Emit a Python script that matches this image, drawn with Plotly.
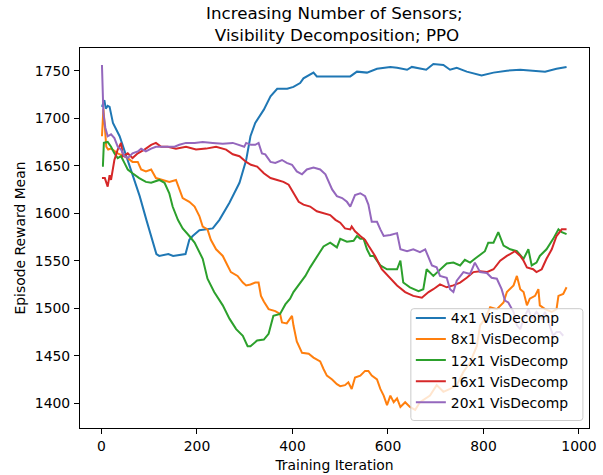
import plotly.graph_objects as go

# Episode reward mean per training iteration, one run per sensor grid size
iters_4x1 = [1, 6, 9, 13, 17, 20, 24, 38, 52, 66, 80, 94, 107, 115, 121, 140, 150, 165, 176, 184, 191,
             205, 219, 233, 247, 268, 289, 303, 312, 322, 340, 354, 368, 389, 402, 416, 423, 444, 451,
             479, 521, 535, 556, 577, 605, 619, 640, 650, 680, 695, 716, 730, 744, 765, 796, 821, 849,
             877, 904, 929, 953, 974]
reward_4x1 = [1712, 1719, 1710, 1713, 1712, 1704, 1695, 1681, 1660, 1639, 1618, 1593, 1569, 1557, 1555,
              1557, 1555, 1556, 1557, 1572, 1576, 1582, 1583, 1584, 1593, 1611, 1632, 1656, 1681, 1695,
              1709, 1723, 1731, 1731, 1733, 1737, 1742, 1748, 1744, 1744, 1744, 1749, 1748, 1752, 1754,
              1753, 1751, 1754, 1751, 1757, 1756, 1751, 1753, 1749, 1745, 1748, 1750, 1751, 1750, 1749,
              1752, 1754]

iters_8x1 = [1, 4, 7, 10, 14, 20, 34, 45, 55, 65, 76, 83, 93, 104, 114, 128, 142, 156, 163, 170, 184,
             195, 205, 212, 222, 229, 240, 254, 264, 271, 285, 296, 303, 312, 322, 329, 334, 340, 350,
             364, 374, 378, 388, 399, 402, 409, 420, 434, 444, 458, 465, 472, 483, 493, 500, 510, 517,
             524, 531, 542, 552, 559, 566, 577, 584, 591, 598, 605, 612, 619, 626, 636, 646, 657, 667,
             688, 702, 716, 730, 744, 758, 772, 786, 793, 803, 814, 828, 842, 849, 863, 870, 877, 884,
             891, 897, 908, 915, 918, 929, 943, 953, 957, 967, 974]
reward_8x1 = [1681, 1710, 1691, 1670, 1667, 1668, 1663, 1660, 1658, 1654, 1654, 1646, 1644, 1646, 1637,
              1635, 1633, 1635, 1625, 1616, 1612, 1607, 1597, 1586, 1583, 1572, 1562, 1555, 1545, 1538,
              1534, 1527, 1524, 1525, 1527, 1527, 1513, 1507, 1499, 1497, 1494, 1485, 1484, 1492, 1482,
              1465, 1453, 1452, 1448, 1444, 1436, 1429, 1425, 1420, 1418, 1419, 1422, 1415, 1427, 1429,
              1434, 1434, 1429, 1425, 1415, 1408, 1398, 1408, 1401, 1405, 1396, 1401, 1396, 1393, 1401,
              1408, 1419, 1412, 1415, 1419, 1433, 1443, 1460, 1482, 1489, 1501, 1499, 1506, 1517, 1524,
              1534, 1520, 1517, 1503, 1510, 1513, 1520, 1503, 1499, 1496, 1499, 1513, 1515, 1522]

iters_12x1 = [1, 3, 5, 13, 20, 27, 34, 41, 48, 55, 65, 79, 93, 104, 121, 132, 142, 149, 160, 170, 184,
              195, 212, 222, 236, 254, 268, 282, 296, 306, 312, 326, 340, 350, 360, 374, 385, 395, 402,
              416, 427, 437, 448, 458, 465, 479, 493, 500, 514, 528, 535, 542, 549, 556, 563, 570, 584,
              598, 619, 626, 632, 646, 657, 664, 674, 681, 695, 709, 723, 737, 751, 761, 772, 782, 793,
              803, 810, 821, 831, 842, 856, 870, 884, 894, 901, 911, 918, 932, 946, 957, 964, 974]
reward_12x1 = [1650, 1650, 1674, 1675, 1670, 1663, 1658, 1660, 1653, 1646, 1642, 1637, 1633, 1632, 1635,
               1632, 1621, 1607, 1593, 1584, 1576, 1569, 1552, 1531, 1517, 1503, 1489, 1478, 1471, 1460,
               1460, 1466, 1467, 1473, 1492, 1494, 1504, 1510, 1517, 1527, 1534, 1543, 1552, 1559, 1565,
               1569, 1564, 1573, 1570, 1571, 1576, 1573, 1573, 1562, 1555, 1555, 1545, 1541, 1541, 1550,
               1527, 1522, 1520, 1518, 1520, 1541, 1534, 1540, 1547, 1548, 1545, 1551, 1548, 1552, 1556,
               1560, 1569, 1569, 1580, 1566, 1562, 1560, 1552, 1562, 1545, 1548, 1555, 1562, 1573, 1583,
               1580, 1578]

iters_16x1 = [1, 7, 13, 17, 20, 27, 34, 41, 45, 55, 65, 76, 90, 104, 114, 125, 139, 156, 177, 198, 219,
              240, 261, 275, 289, 303, 313, 326, 340, 354, 368, 381, 392, 402, 413, 423, 437, 451, 465,
              479, 490, 500, 510, 521, 524, 531, 542, 552, 559, 573, 587, 601, 619, 636, 653, 671, 685,
              695, 709, 723, 737, 751, 765, 779, 793, 807, 821, 835, 849, 866, 877, 884, 891, 904, 911,
              922, 932, 943, 953, 964, 974]
reward_16x1 = [1637, 1637, 1628, 1640, 1635, 1656, 1667, 1674, 1660, 1663, 1658, 1663, 1667, 1672, 1674,
               1670, 1670, 1668, 1670, 1667, 1668, 1670, 1667, 1662, 1660, 1654, 1651, 1649, 1642, 1637,
               1635, 1633, 1630, 1621, 1612, 1609, 1607, 1602, 1600, 1598, 1593, 1590, 1584, 1583, 1586,
               1581, 1576, 1572, 1566, 1555, 1541, 1534, 1524, 1517, 1513, 1511, 1517, 1520, 1525, 1522,
               1524, 1527, 1532, 1538, 1539, 1538, 1541, 1550, 1555, 1560, 1555, 1550, 1543, 1541, 1538,
               1541, 1552, 1562, 1576, 1583, 1583]

iters_20x1 = [1, 4, 8, 13, 20, 27, 34, 41, 48, 55, 65, 76, 83, 93, 104, 114, 135, 153, 163, 177, 195,
              212, 233, 254, 275, 289, 299, 303, 313, 322, 329, 336, 343, 354, 364, 378, 388, 399, 409,
              420, 430, 444, 458, 469, 476, 483, 493, 504, 514, 521, 531, 542, 552, 559, 566, 577, 584,
              591, 605, 619, 626, 640, 653, 667, 678, 685, 692, 702, 709, 723, 730, 737, 744, 758, 772,
              782, 793, 807, 817, 828, 838, 845, 852, 863, 870, 877, 884, 894, 901, 911, 922, 929, 939,
              946, 953, 960, 967]
reward_20x1 = [1756, 1705, 1690, 1681, 1683, 1679, 1670, 1667, 1660, 1658, 1663, 1665, 1668, 1665, 1668,
               1670, 1670, 1670, 1672, 1674, 1674, 1675, 1674, 1673, 1674, 1672, 1670, 1674, 1672, 1672,
               1674, 1663, 1662, 1654, 1653, 1656, 1653, 1651, 1644, 1641, 1646, 1648, 1646, 1641, 1632,
               1625, 1618, 1616, 1612, 1607, 1619, 1621, 1618, 1609, 1591, 1591, 1583, 1576, 1577, 1579,
               1562, 1560, 1562, 1559, 1562, 1553, 1545, 1543, 1534, 1532, 1520, 1517, 1529, 1538, 1536,
               1548, 1538, 1537, 1532, 1531, 1520, 1508, 1506, 1496, 1482, 1478, 1489, 1499, 1489, 1496,
               1489, 1496, 1482, 1471, 1475, 1475, 1471]

series = [
    ("4x1 VisDecomp", iters_4x1, reward_4x1, "#1f77b4"),
    ("8x1 VisDecomp", iters_8x1, reward_8x1, "#ff7f0e"),
    ("12x1 VisDecomp", iters_12x1, reward_12x1, "#2ca02c"),
    ("16x1 VisDecomp", iters_16x1, reward_16x1, "#d62728"),
    ("20x1 VisDecomp", iters_20x1, reward_20x1, "#9467bd"),
]

FONT = "DejaVu Sans"

fig = go.Figure()
for name, xs, ys, color in series:
    fig.add_trace(go.Scatter(
        x=xs, y=ys, mode="lines", name=name,
        line=dict(color=color, width=2),
    ))

axis_style = dict(
    showline=True, mirror=True, linecolor="black", linewidth=1.1,
    ticks="outside", ticklen=5, tickwidth=1.1, tickcolor="black",
    showgrid=False, zeroline=False, automargin=False,
    tickfont=dict(family=FONT, size=13.9, color="black"),
)

fig.update_layout(
    width=603, height=475,
    margin=dict(l=80, r=14, t=48, b=47),
    paper_bgcolor="white", plot_bgcolor="white",
    font=dict(family=FONT, size=13.9, color="black"),
    xaxis=dict(
        range=[-45, 1021], tickvals=[0, 200, 400, 600, 800, 1000],
        ticklabelstandoff=0,
        title=dict(text="Training Iteration", standoff=7,
                   font=dict(family=FONT, size=13.9, color="black")),
        **axis_style,
    ),
    yaxis=dict(
        range=[1373.9, 1773.9], tickvals=[1400, 1450, 1500, 1550, 1600, 1650, 1700, 1750],
        ticklabelstandoff=1,
        title=dict(text="Episode Reward Mean", standoff=5,
                   font=dict(family=FONT, size=13.9, color="black")),
        **axis_style,
    ),
    legend=dict(
        x=0.65, y=0.3305, xanchor="left", yanchor="top",
        bgcolor="rgba(0,0,0,0)", borderwidth=0,
        font=dict(family=FONT, size=13.9, color="black"),
    ),
    showlegend=True,
)

# Legend frame: translucent white box with a light grey, slightly rounded border
plot_w, plot_h = 509.3, 380.6
bx0, bx1 = 0.65, 0.988
by0, by1 = 0.0197, 0.314
rx, ry = 3 / plot_w, 3 / plot_h
frame_path = (
    f"M {bx0 + rx} {by0} L {bx1 - rx} {by0} Q {bx1} {by0} {bx1} {by0 + ry} "
    f"L {bx1} {by1 - ry} Q {bx1} {by1} {bx1 - rx} {by1} "
    f"L {bx0 + rx} {by1} Q {bx0} {by1} {bx0} {by1 - ry} "
    f"L {bx0} {by0 + ry} Q {bx0} {by0} {bx0 + rx} {by0} Z"
)
fig.add_shape(
    type="path", path=frame_path, xref="paper", yref="paper", layer="above",
    fillcolor="rgba(255,255,255,0.8)", line=dict(color="#cccccc", width=1),
)

# Two-line chart title centred over the plot area
fig.add_annotation(
    text="Increasing Number of Sensors;<br>\u00a0Visibility Decomposition; PPO",
    xref="paper", yref="paper", x=0.5, y=1.064,
    xanchor="center", yanchor="middle", showarrow=False,
    font=dict(family=FONT, size=16.7, color="black"),
)

fig.write_html("out.html")
